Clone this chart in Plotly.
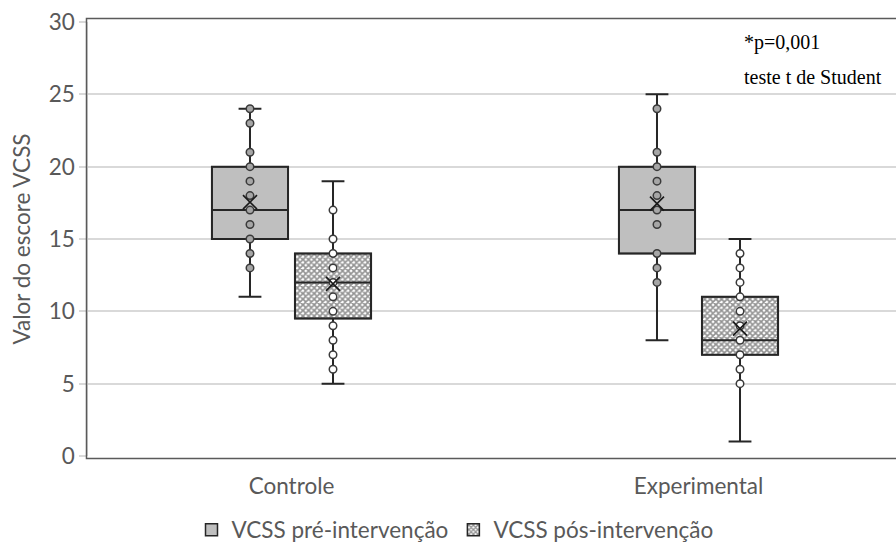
import plotly.graph_objects as go

# ---- data ----
groups = ["Controle", "Experimental"]
series_names = ["VCSS pré-intervenção", "VCSS pós-intervenção"]

pre_min = [11, 8]
pre_q1 = [15, 14]
pre_median = [17, 17]
pre_q3 = [20, 20]
pre_max = [24, 25]
pre_mean = [17.55, 17.45]
pre_points = [[24, 23, 21, 20, 19, 18, 17, 16, 15, 14, 13],
              [24, 21, 20, 19, 18, 17, 16, 14, 13, 12]]

post_min = [5, 1]
post_q1 = [9.5, 7]
post_median = [12, 8]
post_q3 = [14, 11]
post_max = [19, 15]
post_mean = [11.9, 8.8]
post_points = [[17, 15, 14, 13, 12, 11, 10, 9, 8, 7, 6],
               [14, 13, 12, 11, 10, 9, 8, 7, 6, 5]]

annot_lines = ["*p=0,001", "teste t de Student"]

# ---- layout constants ----
OFFSET = 0.102
BOXW = 0.187
SANS = "Lato"
TXT = "#595959"
EDGE = "#262626"
FS = 22.5

fig = go.Figure()

series = [
    dict(name=series_names[0], sign=-1, mn=pre_min, q1=pre_q1, md=pre_median, q3=pre_q3,
         mx=pre_max, mean=pre_mean, pts=pre_points, kind="solid", dot="#a6a6a6"),
    dict(name=series_names[1], sign=1, mn=post_min, q1=post_q1, md=post_median, q3=post_q3,
         mx=post_max, mean=post_mean, pts=post_points, kind="hatch", dot="white"),
]

for s in series:
    pos = [i + s["sign"] * OFFSET for i in range(len(groups))]
    heights = [b - a for a, b in zip(s["q1"], s["q3"])]
    if s["kind"] == "solid":
        marker = dict(color="#bfbfbf", line=dict(color=EDGE, width=1.5))
    else:
        marker = dict(color="white", line=dict(color=EDGE, width=1.5),
                      pattern=dict(shape="x", fgcolor="#262626", bgcolor="white",
                                   size=4, solidity=0.65, fillmode="overlay"))
    fig.add_trace(go.Bar(x=pos, y=heights, base=s["q1"], width=BOXW, name=s["name"],
                         marker=marker, showlegend=True, hoverinfo="skip"))
    fig.add_trace(go.Box(x=pos, q1=s["q1"], median=s["md"], q3=s["q3"],
                         lowerfence=s["mn"], upperfence=s["mx"], width=BOXW,
                         fillcolor="rgba(0,0,0,0)", line=dict(color=EDGE, width=2),
                         whiskerwidth=0.3, boxpoints=False, showlegend=False))
    px, py = [], []
    for p, vals in zip(pos, s["pts"]):
        px += [p] * len(vals)
        py += vals
    fig.add_trace(go.Scatter(x=px, y=py, mode="markers", showlegend=False,
                             marker=dict(symbol="circle", size=7.5, color=s["dot"],
                                         line=dict(color="#3a3a3a", width=1.5))))
    fig.add_trace(go.Scatter(x=pos, y=s["mean"], mode="markers", showlegend=False,
                             marker=dict(symbol="x-thin", size=14,
                                         line=dict(color="#1a1a1a", width=1.6))))

W, H = 896, 545
ML, MT, MB = 88, 22, 89
plot_w = W - ML
plot_h = H - MT - MB
unit = 407.0

fig.update_layout(
    width=W, height=H,
    margin=dict(l=ML, r=0, t=MT, b=MB),
    paper_bgcolor="white", plot_bgcolor="white",
    barmode="overlay", boxmode="overlay",
    font=dict(family=SANS, color=TXT, size=FS),
    showlegend=True,
    legend=dict(orientation="h", xref="container", yref="container",
                x=455 / W, xanchor="center", y=1 - 530 / H, yanchor="middle",
                font=dict(family=SANS, size=FS, color=TXT), itemclick=False,
                traceorder="normal"),
    xaxis=dict(type="linear", range=[-0.5, -0.5 + plot_w / unit],
               tickvals=list(range(len(groups))), ticktext=groups,
               showgrid=False, zeroline=False, showline=False, ticks="",
               ticklabelstandoff=14, tickfont=dict(size=FS, color=TXT, family=SANS)),
    yaxis=dict(range=[0, 30], dtick=5, showgrid=True, gridcolor="#d9d9d9", gridwidth=1.5,
               zeroline=False, showline=True, linecolor="#d9d9d9", linewidth=1.5,
               ticks="outside", ticklen=7, tickcolor="#d9d9d9", tickwidth=1.5,
               tickfont=dict(size=FS, color=TXT, family=SANS),
               title=dict(text="Valor do escore VCSS", standoff=12,
                          font=dict(size=FS, color=TXT, family=SANS))),
)

# outer plot-area border (dark)
fig.add_shape(type="rect", xref="paper", yref="paper",
              x0=-1.5 / plot_w, x1=1.02, y0=-2.5 / plot_h, y1=1 + 3.5 / plot_h,
              line=dict(color="#5a5a5a", width=1.5), fillcolor="rgba(0,0,0,0)", layer="above")

ys = [43, 77]
for txt, yy in zip(annot_lines, ys):
    fig.add_annotation(text=txt, xref="paper", yref="paper",
                       x=(742 - ML) / plot_w, y=(MT + plot_h - yy) / plot_h,
                       xanchor="left", yanchor="middle", showarrow=False,
                       font=dict(family="Liberation Serif", size=20, color="black"))

fig.write_html("out.html")
